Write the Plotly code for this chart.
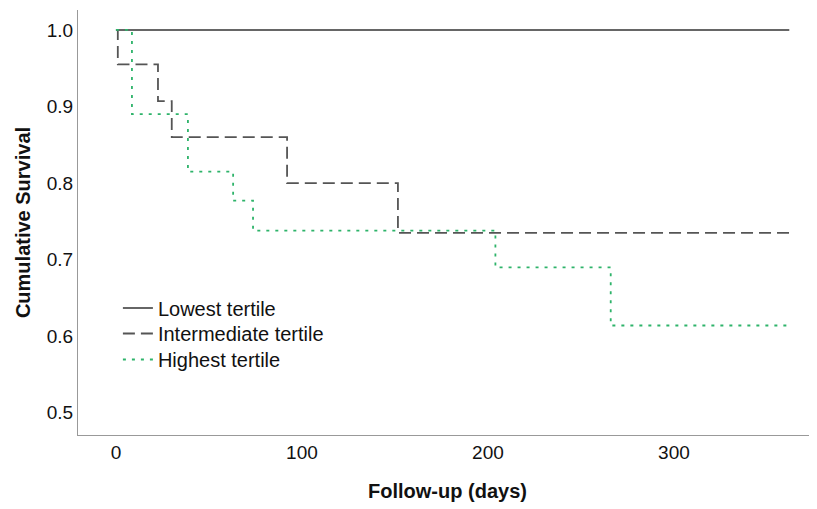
import plotly.graph_objects as go

# Data (Kaplan-Meier step curves)
low_days = [0, 362]
low_surv = [1.0, 1.0]

mid_days = [0, 1, 22.6, 30, 92, 151.6, 362]
mid_surv = [1.0, 0.955, 0.907, 0.860, 0.800, 0.735, 0.735]

high_days = [0, 8.6, 38.7, 63, 73.7, 204, 266, 362]
high_surv = [1.0, 0.890, 0.815, 0.777, 0.738, 0.690, 0.614, 0.614]

x_ticks = [0, 100, 200, 300]
y_ticks = [0.5, 0.6, 0.7, 0.8, 0.9, 1.0]
y_tick_text = ["0.5", "0.6", "0.7", "0.8", "0.9", "1.0"]

fig = go.Figure()
fig.add_trace(go.Scatter(x=low_days, y=low_surv, mode="lines", name="Lowest tertile",
                         legend="legend",
                         line=dict(shape="hv", color="#333333", width=1.5)))
fig.add_trace(go.Scatter(x=mid_days, y=mid_surv, mode="lines", name="Intermediate tertile",
                         legend="legend2",
                         line=dict(shape="hv", color="#555555", width=1.8, dash="12px,6px")))
fig.add_trace(go.Scatter(x=high_days, y=high_surv, mode="lines", name="Highest tertile",
                         legend="legend3",
                         line=dict(shape="hv", color="#2eb36a", width=1.8, dash="3px,6px")))

leg_common = dict(x=0.054, xanchor="left", yanchor="top", bgcolor="rgba(0,0,0,0)",
                  font=dict(size=20), itemwidth=30)

fig.update_layout(
    width=817, height=509,
    margin=dict(l=70, r=8, t=2, b=82),
    paper_bgcolor="white", plot_bgcolor="white",
    font=dict(family="Liberation Sans, Arial, sans-serif", size=19, color="#111111"),
    showlegend=True,
    legend=dict(y=0.345, **leg_common),
    legend2=dict(y=0.2847, **leg_common),
    legend3=dict(y=0.2235, **leg_common),
    xaxis=dict(range=[-20.4, 376.9], tickvals=x_ticks, showgrid=False, zeroline=False,
               showline=True, linecolor="#999999", linewidth=1, ticks="",
               tickfont=dict(size=19),
               title=dict(text="<b>Follow-up (days)</b>", font=dict(size=20), standoff=22)),
    yaxis=dict(range=[0.471, 1.026], tickvals=y_ticks, ticktext=y_tick_text,
               showgrid=False, zeroline=False,
               showline=True, linecolor="#999999", linewidth=1, ticks="",
               tickfont=dict(size=19),
               title=dict(text="<b>Cumulative Survival</b>", font=dict(size=20), standoff=10)),
)

fig.write_html("out.html")
